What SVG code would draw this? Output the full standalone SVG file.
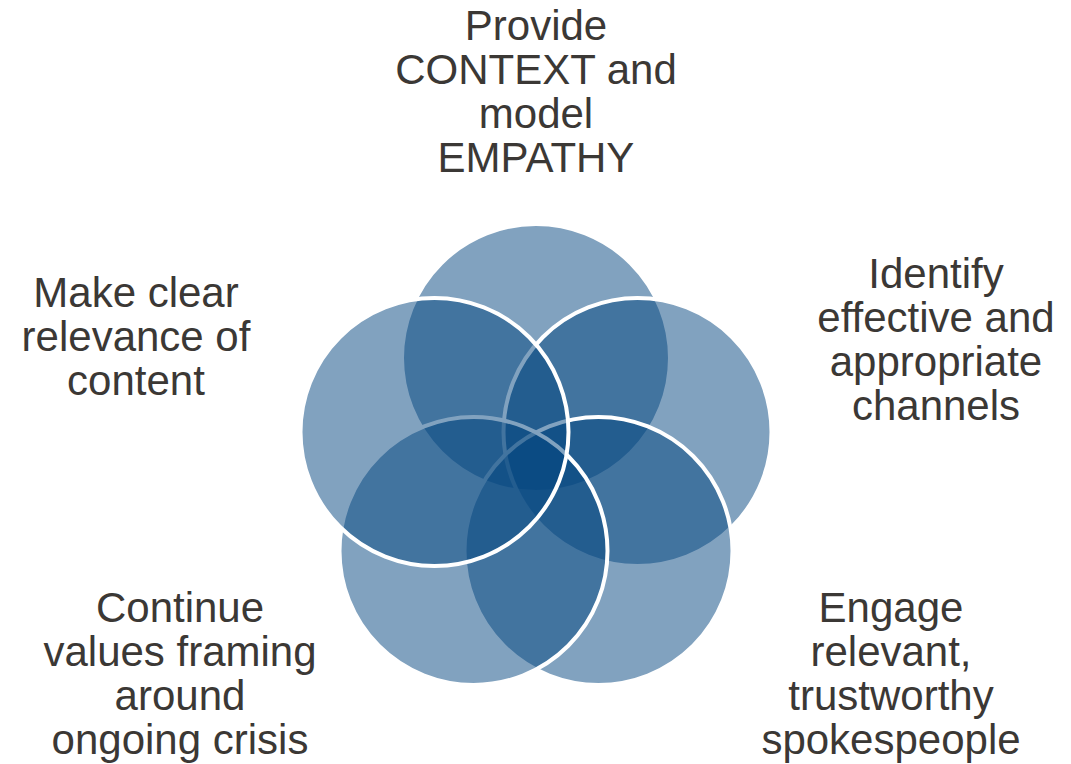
<svg xmlns="http://www.w3.org/2000/svg" width="1071" height="764" viewBox="0 0 1071 764">
<style>
.c{fill:#03467f;fill-opacity:0.5;stroke:#ffffff;stroke-width:4}
.t{font-family:"Liberation Sans",Arial,sans-serif;font-size:42px;fill:#3b3835;text-anchor:middle}
</style>
<rect width="1071" height="764" fill="#ffffff"/>
<g id="circles">
<circle id="c1" class="c" cx="536" cy="358" r="134"/>
<circle id="c2" class="c" cx="637.5" cy="432" r="134"/>
<circle id="c3" class="c" cx="598.5" cy="551" r="134"/>
<circle id="c4" class="c" cx="473.5" cy="551" r="134"/>
<circle id="c5" class="c" cx="434.5" cy="432" r="134"/>
</g>
<g id="label-top">
<text class="t" x="536" y="40">Provide</text>
<text class="t" x="536" y="84">CONTEXT and</text>
<text class="t" x="536" y="128">model</text>
<text class="t" x="536" y="172">EMPATHY</text>
</g>
<g id="label-right">
<text class="t" x="936" y="288">Identify</text>
<text class="t" x="936" y="332">effective and</text>
<text class="t" x="936" y="376">appropriate</text>
<text class="t" x="936" y="420">channels</text>
</g>
<g id="label-bottom-right">
<text class="t" x="891" y="622">Engage</text>
<text class="t" x="891" y="666">relevant,</text>
<text class="t" x="891" y="710">trustworthy</text>
<text class="t" x="891" y="754">spokespeople</text>
</g>
<g id="label-bottom-left">
<text class="t" x="180" y="622">Continue</text>
<text class="t" x="180" y="666">values framing</text>
<text class="t" x="180" y="710">around</text>
<text class="t" x="180" y="754">ongoing crisis</text>
</g>
<g id="label-left">
<text class="t" x="136" y="307">Make clear</text>
<text class="t" x="136" y="351">relevance of</text>
<text class="t" x="136" y="395">content</text>
</g>
</svg>
